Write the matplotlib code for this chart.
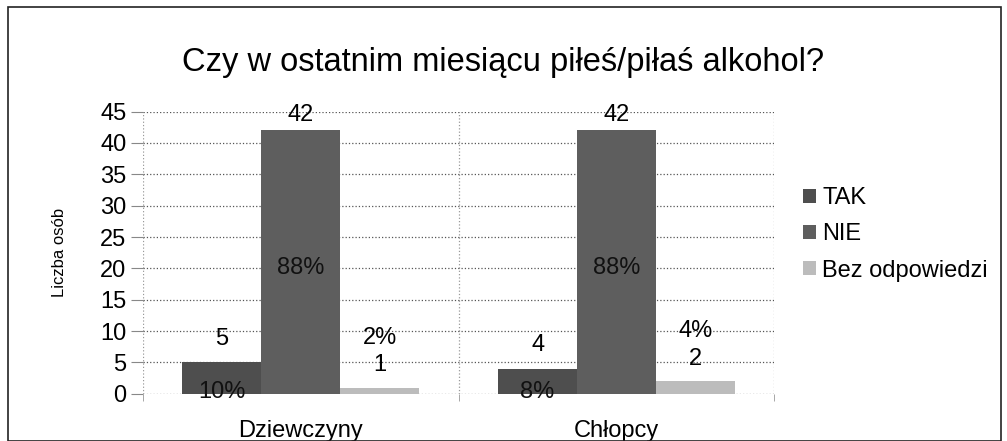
import matplotlib.pyplot as plt
import numpy as np
from matplotlib.patches import Rectangle

plt.rcParams["font.family"] = ["Liberation Sans", "DejaVu Sans"]

TITLE = "Czy w ostatnim miesiącu piłeś/piłaś alkohol?"
GROUPS = ["Dziewczyny", "Chłopcy"]
SERIES = ["TAK", "NIE", "Bez odpowiedzi"]
VALUES = {
    "TAK": [5, 4],
    "NIE": [42, 42],
    "Bez odpowiedzi": [1, 2],
}
PERCENTS = {
    "TAK": ["10%", "8%"],
    "NIE": ["88%", "88%"],
    "Bez odpowiedzi": ["2%", "4%"],
}
COLORS = ["#4e4e4e", "#5e5e5e", "#bcbcbc"]

fig = plt.figure(figsize=(10.07, 4.41), dpi=100)
ax = fig.add_axes([0.142, 0.107, 0.627, 0.640])

x = np.arange(len(GROUPS))
width = 0.25
offsets = [-width, 0, width]
FS = 17

for name, off, color in zip(SERIES, offsets, COLORS):
    vals = VALUES[name]
    ax.bar(x + off, vals, width, color=color, label=name, zorder=2)
    for xi, v, pct in zip(x + off, vals, PERCENTS[name]):
        if name == "NIE":
            ax.annotate(str(v), (xi, v), xytext=(0, 11), textcoords="offset points",
                        ha="center", va="center", fontsize=FS, zorder=3)
            ax.text(xi, 20, pct, ha="center", va="center", fontsize=FS,
                    color="#111111", zorder=3)
        elif name == "TAK":
            ax.annotate(str(v), (xi, v), xytext=(0, 17), textcoords="offset points",
                        ha="center", va="center", fontsize=FS, zorder=3)
            ax.text(xi, 0.3, pct, ha="center", va="center", fontsize=FS,
                    color="#111111", zorder=3)
        else:
            ax.annotate(str(v), (xi, v), xytext=(0, 16), textcoords="offset points",
                        ha="center", va="center", fontsize=FS, zorder=3)
            ax.annotate(pct, (xi, v), xytext=(0, 36), textcoords="offset points",
                        ha="center", va="center", fontsize=FS, zorder=3)

ax.set_xlim(-0.5, 1.5)
ax.set_ylim(0, 45)
ax.set_yticks(range(0, 46, 5))
ax.set_xticks(x)
ax.set_xticklabels(GROUPS, fontsize=17)
ax.tick_params(axis="y", labelsize=17, length=9, color="#888888", width=0.8, pad=3)
ax.tick_params(axis="x", length=0, pad=19)
ax.set_xticks([-0.5, 0.5, 1.5], minor=True)
ax.tick_params(axis="x", which="minor", length=5, color="#999999")

ax.grid(axis="y", linestyle=":", color="#555555", linewidth=0.9, zorder=0)
ax.grid(axis="x", which="minor", linestyle=":", color="#999999", linewidth=0.9, zorder=0)
for s in ax.spines.values():
    s.set_visible(False)

ax.set_ylabel("Liczba osób", fontsize=12, labelpad=24)

fig.text(0.5, 0.858, TITLE, ha="center", va="center", fontsize=23.5)

ax.legend(loc="center left", bbox_to_anchor=(1.012, 0.565), frameon=False,
          fontsize=17, handlelength=0.55, handleheight=0.55, handletextpad=0.25,
          labelspacing=0.6)

fig.add_artist(Rectangle((0.008, 0.0), 0.986, 0.985, transform=fig.transFigure,
                         fill=False, edgecolor="#222222", linewidth=1.2))

fig.savefig("out.png", dpi=100)
